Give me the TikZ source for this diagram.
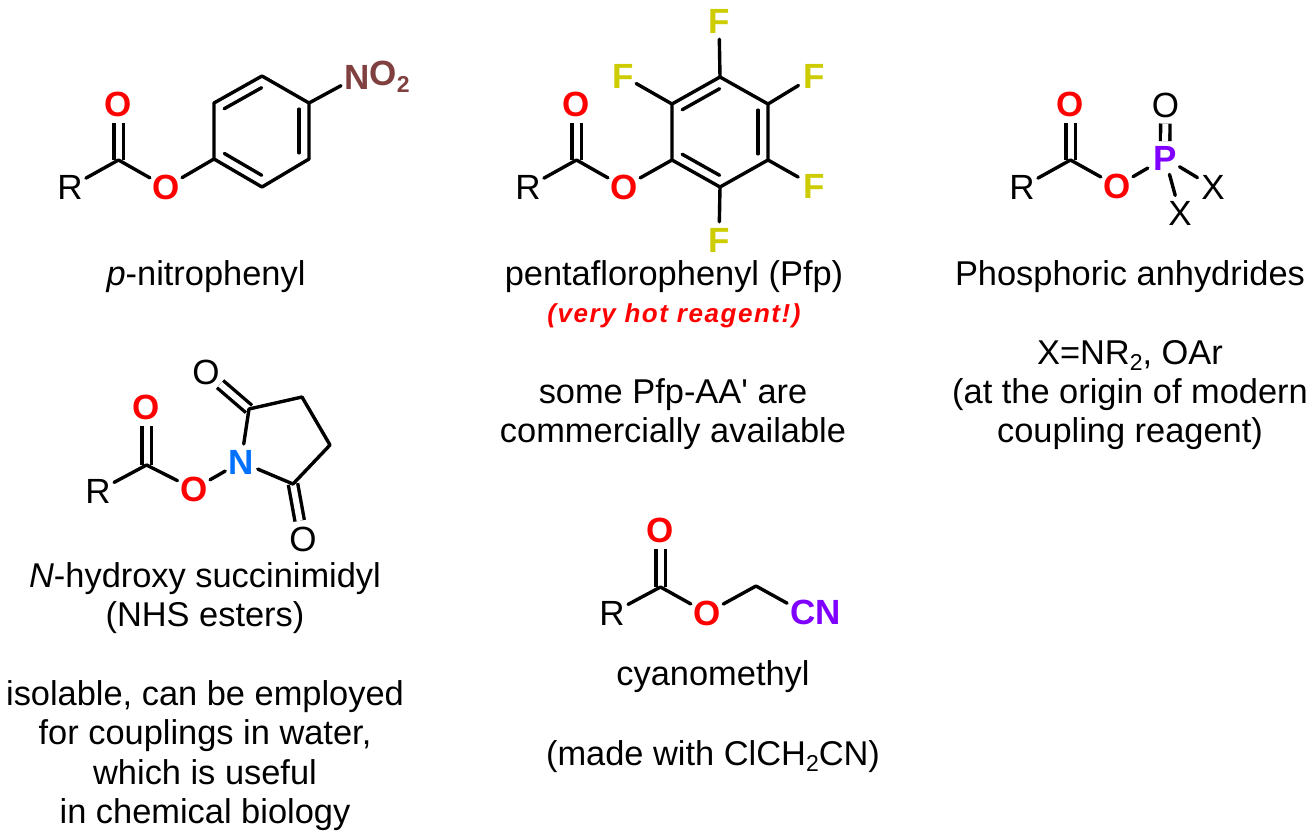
\documentclass[tikz,border=0pt]{standalone}
\usepackage{fontspec}
\setmainfont{Liberation Sans}
\newfontfamily\spacedfont[LetterSpace=6]{Liberation Sans}
\usetikzlibrary{calc}
\definecolor{oxy}{RGB}{255,0,0}
\definecolor{nitro}{RGB}{128,64,64}
\definecolor{flu}{RGB}{204,204,0}
\definecolor{nblue}{RGB}{0,112,255}
\definecolor{purp}{RGB}{128,0,255}
\newcommand{\subdigit}[1]{\raisebox{-6.5pt}{\fontsize{23}{23}\selectfont #1}}
\newcommand{\innerbond}[2]{\draw[bond] ($(#1)!0.11!(#2)!10pt!-90:(#2)$) -- ($(#2)!0.11!(#1)!10pt!90:(#1)$);}
\tikzset{
  bond/.style={line width=3.4pt,line cap=round,line join=round},
  dbl/.style={line width=3.4pt,double,double distance=6pt},
  atom/.style={circle,inner sep=0pt,minimum size=36pt,font=\fontsize{35}{35}\selectfont},
  batom/.style={atom,font=\bfseries\fontsize{35}{35}\selectfont},
  ox/.style={batom,text=oxy},
  fl/.style={batom,text=flu},
  caption/.style={anchor=base,inner sep=0pt,font=\fontsize{34.4}{40}\selectfont},
}
\begin{document}
\begin{tikzpicture}[x=1pt,y=-1pt]
\fill[white] (0,0) rectangle (1316,839);
\useasboundingbox (0,0) rectangle (1316,839);

% --- p-nitrophenyl
\node[atom] (aR) at (70,187) {R};
\coordinate (aC) at (118.5,160);
\node[ox] (aO1) at (118.5,104) {O};
\node[ox] (aO2) at (166,187) {O};
\coordinate (a1) at (214,159);
\coordinate (a2) at (214,103);
\coordinate (a3) at (262,76);
\coordinate (a4) at (309,103);
\coordinate (a5) at (309,159);
\coordinate (a6) at (262,187);
\node[batom,text=nitro] (aN) at (357,77) {N};
\node[anchor=west,inner sep=0pt,text=nitro,font=\bfseries\fontsize{35}{35}\selectfont] (aNO) at (369.5,77) {O\subdigit{2}};
\draw[dbl] (aC) -- (aO1);
\draw[bond] (aR) -- (aC) -- (aO2);
\draw[bond] (aO2) -- (a1);
\draw[bond] (a1) -- (a2) -- (a3) -- (a4) -- (a5) -- (a6) -- cycle;
\innerbond{a2}{a3}
\innerbond{a4}{a5}
\innerbond{a6}{a1}
\draw[bond] (a4) -- (aN);

% --- pentafluorophenyl
\node[atom] (bR) at (528,187) {R};
\coordinate (bC) at (576.5,160);
\node[ox] (bO1) at (576.5,104) {O};
\node[ox] (bO2) at (624,187) {O};
\coordinate (b1) at (672,160);
\coordinate (b2) at (672,104);
\coordinate (b3) at (720,77);
\coordinate (b4) at (768,104);
\coordinate (b5) at (768,160);
\coordinate (b6) at (720,187);
\node[fl] (bF1) at (719,21) {F};
\node[fl] (bF2) at (623,76) {F};
\node[fl] (bF3) at (814,76) {F};
\node[fl] (bF4) at (814,186) {F};
\node[fl] (bF5) at (719,240) {F};
\draw[dbl] (bC) -- (bO1);
\draw[bond] (bR) -- (bC) -- (bO2);
\draw[bond] (bO2) -- (b1);
\draw[bond] (b1) -- (b2) -- (b3) -- (b4) -- (b5) -- (b6) -- cycle;
\innerbond{b2}{b3}
\innerbond{b4}{b5}
\innerbond{b6}{b1}
\draw[bond] (b3) -- (bF1);
\draw[bond,shorten >=-3pt] (b2) -- (bF2);
\draw[bond] (b4) -- (bF3);
\draw[bond] (b5) -- (bF4);
\draw[bond] (b6) -- (bF5);

% --- phosphoric anhydride
\node[atom] (cR) at (1022,187) {R};
\coordinate (cC) at (1070.5,160);
\node[ox] (cO1) at (1070.5,104) {O};
\node[ox] (cO2) at (1117,186) {O};
\node[batom,text=purp,minimum size=32pt] (cP) at (1165,158) {P};
\node[atom] (cO3) at (1165.5,105) {O};
\node[atom] (cX1) at (1213,187) {X};
\node[atom] (cX2) at (1180,213) {X};
\draw[dbl] (cC) -- (cO1);
\draw[dbl] (cP) -- (cO3);
\draw[bond] (cR) -- (cC) -- (cO2);
\draw[bond,shorten >=3pt] (cO2) -- (cP);
\draw[bond] (cP) -- (cX1);
\draw[bond] (cP) -- (cX2);

% --- NHS ester
\node[atom] (dR) at (98,491) {R};
\coordinate (dC) at (146.5,465);
\node[ox] (dO1) at (146.5,407) {O};
\node[ox] (dO2) at (194,489) {O};
\node[batom,text=nblue] (dN) at (241,462) {N};
\coordinate (d2) at (249,409);
\node[atom] (dO3) at (206,372) {O};
\coordinate (d3) at (302,397);
\coordinate (d4) at (330,445);
\coordinate (d5) at (293,484);
\node[atom] (dO4) at (303,539) {O};
\draw[dbl] (dC) -- (dO1);
\draw[dbl] (d2) -- (dO3);
\draw[dbl] (d5) -- (dO4);
\draw[bond] (dR) -- (dC) -- (dO2);
\draw[bond] (dO2) -- (dN);
\draw[bond] (dN) -- (d2) -- (d3) -- (d4) -- (d5) -- (dN);

% --- cyanomethyl
\node[atom] (eR) at (612,613) {R};
\coordinate (eC) at (660.5,587);
\node[ox] (eO1) at (660.5,530) {O};
\node[ox] (eO2) at (707,613) {O};
\coordinate (eM) at (756,586);
\node[batom,text=purp] (eCN) at (803,612) {C};
\node[anchor=west,inner sep=0pt,text=purp,font=\bfseries\fontsize{35}{35}\selectfont] (eNN) at (815,612) {N};
\draw[dbl] (eC) -- (eO1);
\draw[bond] (eR) -- (eC) -- (eO2);
\draw[bond] (eO2) -- (eM) -- (eCN);

% --- captions
\node[caption] (t1) at (206,285) {\textit{p}-nitrophenyl};
\node[caption] (t2) at (674,285) {pentaflorophenyl (Pfp)};
\node[anchor=base,inner sep=0pt,text=oxy,font=\spacedfont\bfseries\itshape\fontsize{26}{30}\selectfont] (t3) at (674,322) {(very hot reagent!)};
\node[caption] (t4) at (673,403) {some Pfp-AA\textquotesingle{} are};
\node[caption] (t5) at (673,442) {commercially available};
\node[caption] (t6) at (1130,285) {Phosphoric anhydrides};
\node[caption] (t7) at (1130,364) {X=NR\subdigit{2}, OAr};
\node[caption] (t8) at (1130,403) {(at the origin of modern};
\node[caption] (t9) at (1130,442) {coupling reagent)};
\node[caption] (t10) at (205,587) {\textit{N}-hydroxy succinimidyl};
\node[caption] (t11) at (205,626) {(NHS esters)};
\node[caption] (t12) at (205,705) {isolable, can be employed};
\node[caption] (t13) at (205,744) {for couplings in water,};
\node[caption] (t14) at (205,784) {which is useful};
\node[caption] (t15) at (205,823) {in chemical biology};
\node[caption] (t16) at (713,685) {cyanomethyl};
\node[caption] (t17) at (713,765) {(made with ClCH\subdigit{2}CN)};
\end{tikzpicture}
\end{document}
